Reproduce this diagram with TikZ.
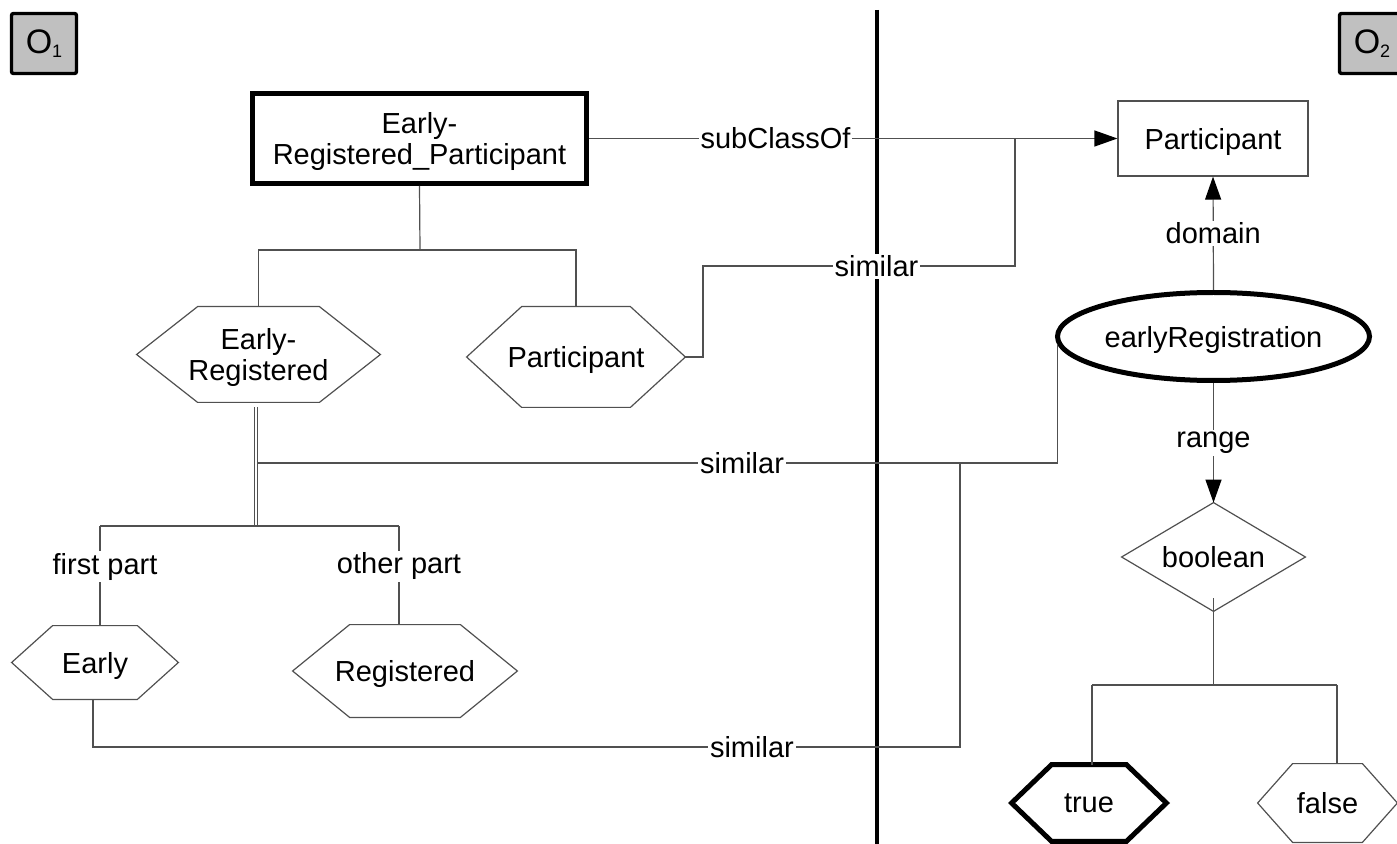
\documentclass[tikz,border=0pt]{standalone}
\usepackage{fontspec}
\setmainfont{Liberation Sans}
\usetikzlibrary{arrows.meta,calc,shapes.geometric}
\definecolor{linec}{HTML}{505050}
\definecolor{ontofill}{HTML}{C0C0C0}

% hexagon outline around a rectangular node: \drawhex[style]{node}{slant}
\newcommand{\drawhex}[3][]{%
  \draw[#1] (#2.west) -- ($(#2.north west)+(#3,0)$) -- ($(#2.north east)+(-#3,0)$)
    -- (#2.east) -- ($(#2.south east)+(-#3,0)$) -- ($(#2.south west)+(#3,0)$) -- cycle;}

\begin{document}
\begin{tikzpicture}[x=0.5pt,y=-0.5pt,
  every node/.style={font=\fontsize{14.5}{15.5}\selectfont, text=black},
  conn/.style={draw=linec, line width=0.6pt},
  lbl/.style={fill=white, inner sep=1pt},
  tip/.style={-{Triangle[length=11.5pt,width=8pt,color=black]}},
  shapebox/.style={rectangle, inner sep=0pt, align=center, text depth=0pt},
  thinshape/.style={draw=linec, line width=0.6pt},
  boldshape/.style={draw=black, line width=2.5pt},
  ontobox/.style={draw=black, line width=1.7pt, fill=ontofill, rounded corners=1pt,
    minimum width=32.5pt, minimum height=30pt, inner sep=0pt,
    font=\fontsize{17}{17}\selectfont}
]
\useasboundingbox (0,0) rectangle (1397,844);

% ontology tags
\node[ontobox] (o1) at (44,43.5) {O\raisebox{-2pt}{\fontsize{9}{9}\selectfont 1}};
\node[ontobox] (o2) at (1372,43.5) {O\raisebox{-2pt}{\fontsize{9}{9}\selectfont 2}};

% separator between the two ontologies
\coordinate (vtop) at (877,10);
\coordinate (vbot) at (877,844);
\draw[line width=1.7pt] (vtop) -- (vbot);

% ---- ontology O1 ----
\node[shapebox, boldshape, minimum width=167pt, minimum height=45pt] (erp) at (419.5,138.5)
  {Early-\\Registered\_Participant};
\node[shapebox, minimum width=121.5pt, minimum height=47.5pt] (er) at (258.5,354.5) {Early-\\Registered};
\drawhex[thinshape]{er}{61}
\node[shapebox, minimum width=109pt, minimum height=50pt] (p1) at (576,357) {Participant};
\drawhex[thinshape]{p1}{55}
\node[shapebox, minimum width=83pt, minimum height=36.5pt] (early) at (95,662.5) {Early};
\drawhex[thinshape]{early}{41}
\node[shapebox, minimum width=112pt, minimum height=46pt] (reg) at (405,671) {Registered};
\drawhex[thinshape]{reg}{57}

% ---- ontology O2 ----
\node[shapebox, thinshape, minimum width=95pt, minimum height=37.5pt] (p2) at (1213,138.5) {Participant};
\node[ellipse, boldshape, inner sep=0pt, text depth=0pt, minimum width=156pt, minimum height=44pt] (erg)
  at (1213.5,336.5) {earlyRegistration};
\node[shapebox, minimum width=91.5pt, minimum height=54pt] (bool) at (1213.5,557) {boolean};
\draw[thinshape] (bool.north) -- (bool.east) -- (bool.south) -- (bool.west) -- cycle;
\node[shapebox, minimum width=77pt, minimum height=38pt] (tru) at (1089,803) {true};
\drawhex[boldshape]{tru}{40}
\node[shapebox, minimum width=69.5pt, minimum height=39pt] (fal) at (1327.5,803) {false};
\drawhex[thinshape]{fal}{35}

% junction points
\coordinate (j1) at (420,250);
\coordinate (t1) at (1015,138.5);
\coordinate (dtop) at (256,407);
\coordinate (dbot) at (256,526);
\coordinate (dmid) at (257,463);
\coordinate (j3) at (960,463);
\coordinate (j3b) at (960,747);
\coordinate (fpj) at (100,526);
\coordinate (opj) at (399,526);
\coordinate (bj) at (1213.5,685);
\coordinate (tj) at (1092,685);
\coordinate (fj) at (1337,685);

% subclass relation
\draw[conn, tip] (erp.east) -- node[lbl, pos=0.353] {subClassOf} (p2.west);

% decomposition of the class name
\draw[conn] (erp.south) -- (j1);
\draw[conn] (er.north) |- (j1) -| (p1.north);

% similar: Participant -- Participant
\draw[conn] (p1.east) -- (703,357) |- (1015,266) -- (t1);
\node[lbl] (s1) at (876.5,266.5) {similar};

% split of Early-Registered
\draw[conn, double=white, double distance=0.7pt] (dtop) -- (dbot);
\draw[conn] (fpj) -- (opj);
\draw[conn] (fpj) -- node[lbl, pos=0.41, xshift=2.5pt] {first part} (fpj |- early.north);
\draw[conn] (opj) -- node[lbl, pos=0.41] {other part} (opj |- reg.north);

% similar: Early-Registered -- earlyRegistration
\draw[conn] (dmid) -| node[lbl, pos=0.303] {similar} (erg.183);

% similar: Early -- earlyRegistration
\draw[conn] ([xshift=-1pt]early.south) |- node[lbl, pos=0.88] {similar} (j3b) -- (j3);

% property domain and range
\draw[conn, tip] (erg.north) -- node[lbl] {domain} (p2.south);
\draw[conn, tip] (erg.south) -- node[lbl, pos=0.5] {range} (bool.north);

% boolean values
\draw[conn] ([yshift=6.5pt]bool.south) -- (bj);
\draw[conn] (tj) -- (fj);
\draw[conn] (tj) -- (tj |- tru.north);
\draw[conn] (fj) -- (fj |- fal.north);
\end{tikzpicture}
\end{document}
